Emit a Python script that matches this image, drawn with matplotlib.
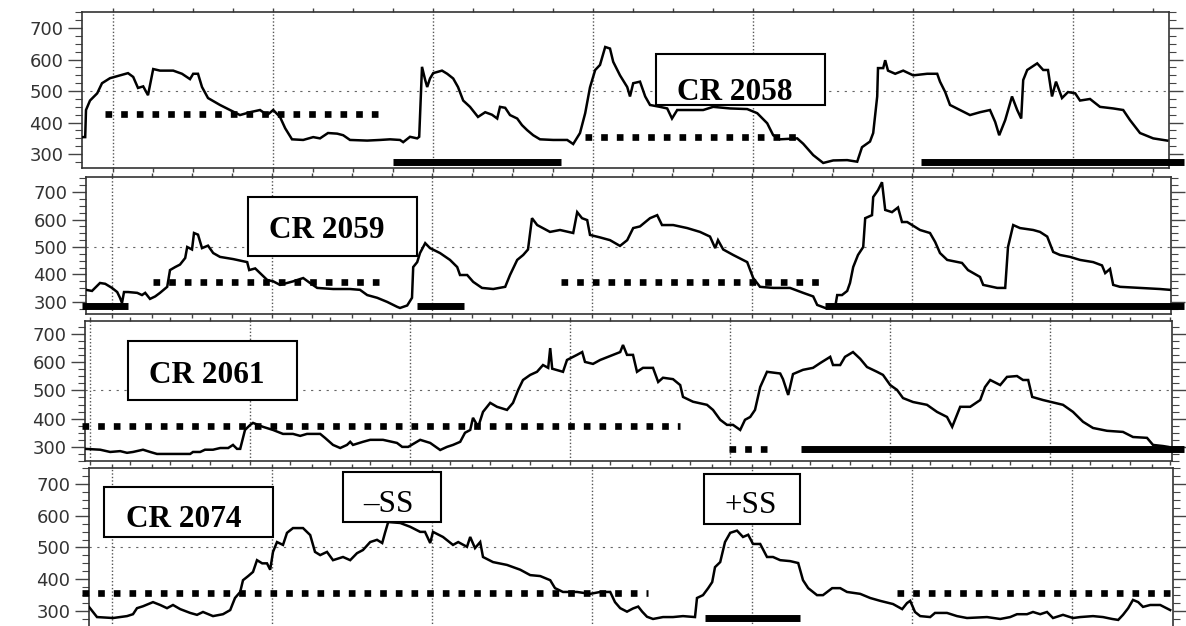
import numpy as np
import matplotlib
matplotlib.use('Agg')
import matplotlib.pyplot as plt
from matplotlib.patches import Rectangle
from matplotlib.ticker import FixedLocator, MultipleLocator

# solar wind speed (km/s) vs day of rotation
p1_day = [0.0, 0.08, 0.1, 0.2, 0.38, 0.5, 0.7, 0.95, 1.15, 1.28,
          1.4, 1.53, 1.65, 1.78, 1.95, 2.28, 2.5, 2.7, 2.78, 2.9,
          3.0, 3.15, 3.45, 3.7, 3.95, 4.2, 4.45, 4.63, 4.78, 4.95,
          5.08, 5.25, 5.53, 5.78, 5.95, 6.15, 6.38, 6.53, 6.7, 7.13,
          7.45, 7.7, 7.95, 8.03, 8.2, 8.38, 8.43, 8.48, 8.5, 8.58,
          8.63, 8.7, 8.78, 9.0, 9.13, 9.28, 9.4, 9.53, 9.7, 9.9,
          10.08, 10.25, 10.38, 10.45, 10.58, 10.7, 10.88, 11.0, 11.13, 11.28,
          11.45, 11.78, 12.13, 12.28, 12.45, 12.58, 12.7, 12.83, 12.95, 13.08,
          13.2, 13.28, 13.45, 13.63, 13.7, 13.78, 13.95, 14.08, 14.2, 14.45,
          14.63, 14.75, 14.88, 15.13, 15.53, 15.78, 16.2, 16.63, 16.88, 17.13,
          17.28, 17.45, 17.88, 18.03, 18.28, 18.53, 18.78, 19.13, 19.38, 19.5,
          19.7, 19.78, 19.88, 19.9, 20.03, 20.08, 20.15, 20.33, 20.53, 20.78,
          21.13, 21.38, 21.45, 21.58, 21.7, 21.95, 22.2, 22.45, 22.7, 22.83,
          22.93, 23.08, 23.25, 23.38, 23.48, 23.53, 23.63, 23.88, 24.03, 24.15,
          24.25, 24.35, 24.5, 24.65, 24.83, 24.95, 25.2, 25.45, 25.78, 26.03,
          26.2, 26.45, 26.78, 27.13]
p1_speed = [354, 354, 440, 470, 493, 525, 541, 550, 557, 545,
            510, 515, 487, 570, 565, 565, 555, 538, 555, 555,
            513, 478, 456, 440, 424, 433, 440, 424, 440, 418,
            382, 347, 345, 354, 350, 367, 365, 360, 345, 343,
            345, 347, 345, 338, 355, 350, 355, 510, 577, 535,
            513, 540, 557, 565, 555, 540, 513, 470, 450, 418,
            433, 425, 413, 450, 447, 424, 413, 392, 376, 360,
            347, 345, 345, 332, 367, 430, 512, 567, 583, 640,
            635, 593, 550, 513, 483, 525, 530, 483, 456, 450,
            445, 413, 440, 440, 440, 450, 445, 443, 430, 398,
            360, 347, 350, 333, 297, 272, 280, 281, 276, 322,
            340, 367, 483, 573, 573, 598, 565, 555, 565, 550,
            555, 555, 530, 497, 456, 440, 424, 433, 440, 402,
            360, 408, 483, 440, 413, 535, 567, 588, 567, 567,
            483, 530, 478, 497, 493, 470, 475, 450, 445, 440,
            408, 367, 350, 343]

p2_day = [0, 0.15, 0.35, 0.48, 0.65, 0.78, 0.85, 0.9, 0.95, 1.05,
          1.28, 1.4, 1.48, 1.6, 1.73, 1.85, 2.03, 2.1, 2.23, 2.35,
          2.48, 2.53, 2.65, 2.7, 2.8, 2.9, 3.05, 3.18, 3.35, 3.68,
          4.03, 4.08, 4.23, 4.35, 4.53, 4.68, 4.85, 5.03, 5.18, 5.43,
          5.6, 5.78, 6.18, 6.6, 6.85, 7.03, 7.28, 7.53, 7.78,
          7.85, 8.03, 8.15, 8.18, 8.28, 8.35, 8.48, 8.6, 8.85, 9.1,
          9.28, 9.35, 9.53, 9.68, 9.9, 10.18, 10.48, 10.6, 10.78, 10.93,
          11.05, 11.15, 11.28, 11.6, 11.85, 12.18, 12.28, 12.4, 12.53, 12.6,
          12.85, 13.1, 13.35, 13.53, 13.68, 13.85, 14.1, 14.28, 14.4, 14.68,
          15.03, 15.35, 15.6, 15.73, 15.8, 15.93, 16.18, 16.53, 16.68, 16.85,
          17.18,
          17.6, 17.93, 18.18, 18.28, 18.48, 18.73, 18.78, 18.9, 19.03, 19.1,
          19.18, 19.3, 19.43, 19.48, 19.65, 19.68, 19.8, 19.9, 19.98, 20.15,
          20.3, 20.4, 20.53, 20.85, 21.1, 21.23, 21.35, 21.53, 21.9, 22.05,
          22.35, 22.43, 22.78, 22.98, 23.05, 23.18, 23.35, 23.68, 23.85, 24.03,
          24.18, 24.35, 24.6, 24.85, 25.18, 25.4, 25.48, 25.6, 25.68, 25.85,
          26.35, 26.85, 27.1]
p2_speed = [344, 340, 369, 366, 351, 336, 315, 296, 336, 336,
            333, 325, 333, 311, 320, 333, 355, 416, 427, 436,
            460, 500, 491, 551, 545, 496, 505, 478, 464, 456,
            445, 416, 422, 405, 380, 375, 362, 369, 375, 387,
            369, 351, 347, 347, 344, 325, 315, 300, 282,
            278, 287, 315, 427, 445, 478, 514, 496, 478, 453,
            427, 398, 398, 373, 351, 347, 355, 398, 453, 471,
            491, 605, 580, 555, 562, 551, 627, 605, 598, 544,
            535, 525, 504, 525, 569, 575, 605, 616, 580, 580,
            569, 555, 538, 496, 525, 491, 471, 445, 387, 355,
            351,
            351, 333, 320, 289, 278, 282, 325, 325, 340, 369,
            427, 471, 500, 605, 616, 682, 707, 736, 635, 627,
            644, 591, 591, 562, 551, 518, 478, 453, 442, 416,
            391, 362, 351, 351, 500, 580, 569, 562, 555, 538,
            482, 471, 464, 453, 445, 433, 405, 420, 362, 355,
            351, 347, 344]

p3_day = [0, 0.38, 0.63, 0.88, 1.05, 1.2, 1.45, 1.63, 1.8, 2.05,
          2.38, 2.63, 2.7, 2.88, 3.0, 3.2, 3.38, 3.58, 3.7, 3.8,
          3.88, 3.95, 4.0, 4.13, 4.2, 4.45, 4.7, 4.95, 5.2, 5.38,
          5.55, 5.88, 6.0, 6.2, 6.38, 6.55, 6.63, 6.7, 6.95, 7.13,
          7.45, 7.8,
          7.93, 8.08, 8.38, 8.63, 8.88, 9.05, 9.2, 9.38, 9.5, 9.63,
          9.7, 9.83, 9.95, 10.13, 10.3, 10.55, 10.7, 10.83, 10.95, 11.13,
          11.3, 11.45, 11.58, 11.63, 11.68, 11.95, 12.05, 12.3, 12.43, 12.5,
          12.7, 12.88, 13.2, 13.38, 13.45, 13.55, 13.7, 13.8, 13.95, 14.2,
          14.33, 14.45, 14.7, 14.88, 14.95, 15.2, 15.55, 15.7, 15.88, 16.05,
          16.2, 16.38, 16.5, 16.63, 16.75, 16.88, 17.05, 17.38, 17.45, 17.58,
          17.7,
          17.95, 18.2, 18.38, 18.63, 18.7, 18.88, 19.0, 19.2, 19.38, 19.55,
          19.8, 19.95, 20.13, 20.3, 20.45, 20.7, 21.05, 21.3, 21.55, 21.68,
          21.88, 22.13, 22.38, 22.5, 22.63, 22.88, 23.05, 23.3, 23.45, 23.58,
          23.68, 23.95, 24.45, 24.7, 24.95, 25.2, 25.55, 25.95, 26.2, 26.55,
          26.7, 26.95, 27.08]
p3_speed = [293, 290, 282, 285, 279, 282, 290, 282, 275, 275,
            275, 275, 282, 282, 290, 290, 296, 296, 307, 293,
            293, 332, 360, 378, 385, 371, 360, 346, 346, 339,
            346, 346, 332, 307, 296, 307, 318, 307, 318, 325,
            325, 314,
            300, 300, 325, 314, 289, 300, 307, 318, 350, 360,
            403, 371, 424, 456, 442, 431, 456, 502, 537, 555,
            566, 590, 580, 650, 577, 566, 608, 626, 636, 601,
            594, 608, 626, 636, 661, 626, 626, 566, 580, 580,
            530, 545, 540, 519, 477, 460, 449, 431, 396, 378,
            378, 360, 396, 406, 431, 512, 566, 560, 540, 484,
            558,
            573, 580, 597, 619, 590, 590, 619, 636, 612, 583,
            566, 555, 519, 502, 473, 459, 449, 424, 406, 371,
            442, 442, 466, 512, 537, 519, 548, 551, 537, 537,
            477, 466, 449, 424, 389, 367, 357, 353, 335, 332,
            307, 303, 300]

p4_day = [0, 0.1, 0.2, 0.6, 0.95, 1.1, 1.2, 1.35, 1.6, 1.78,
          1.95, 2.1, 2.28, 2.53, 2.7, 2.85, 3.1, 3.35, 3.53, 3.65,
          3.78, 3.85, 3.98, 4.1, 4.2, 4.33, 4.45, 4.53, 4.6, 4.7,
          4.85, 4.95, 5.1, 5.35, 5.53, 5.65, 5.78, 5.95, 6.1, 6.35,
          6.53, 6.7, 6.85, 7.03, 7.2, 7.33, 7.4, 7.48,
          7.78, 8.03, 8.28, 8.4, 8.53, 8.6, 8.85, 9.1, 9.23, 9.45,
          9.53, 9.65, 9.78, 9.85, 10.1, 10.45, 10.78, 11.03, 11.28, 11.53,
          11.65, 11.85, 12.2, 12.53, 12.78, 13.03, 13.15, 13.28, 13.45, 13.6,
          13.73, 13.83, 13.95, 14.1, 14.35, 14.6, 14.85, 15.15, 15.2, 15.35,
          15.48, 15.58, 15.65, 15.78, 15.9, 16.03, 16.2, 16.35, 16.48, 16.6,
          16.78, 16.95, 17.1,
          17.28, 17.53, 17.73, 17.85, 17.98, 18.2, 18.35, 18.58, 18.78, 18.95,
          19.28, 19.53, 19.78, 20.1, 20.33, 20.45, 20.53, 20.65, 20.78, 21.03,
          21.15, 21.45, 21.7, 21.95, 22.45, 22.78, 23.03, 23.2, 23.45, 23.6,
          23.78, 23.95, 24.1, 24.35, 24.6, 24.78, 25.1, 25.35, 25.58, 25.73,
          25.85, 25.98, 26.1, 26.23, 26.35, 26.53, 26.78, 27.03]
p4_speed = [313, 297, 281, 278, 284, 290, 309, 315, 328, 319,
            309, 319, 306, 294, 288, 297, 284, 290, 303, 341,
            360, 397, 410, 423, 460, 450, 450, 430, 486, 517,
            508, 546, 561, 561, 539, 486, 476, 486, 460, 470,
            460, 482, 492, 517, 524, 514, 546, 580,
            577, 565, 549, 549, 514, 549, 533, 508, 517, 502,
            533, 498, 517, 470, 454, 445, 430, 413, 410, 397,
            372, 360, 360, 354, 360, 360, 328, 309, 298, 308,
            314, 298, 282, 275, 281, 281, 284, 281, 341, 350,
            372, 391, 438, 454, 517, 546, 553, 533, 540, 511,
            511, 470, 470,
            460, 457, 451, 397, 372, 350, 350, 372, 372, 360,
            354, 341, 332, 322, 306, 325, 332, 297, 284, 281,
            294, 294, 284, 278, 281, 275, 281, 290, 290, 297,
            290, 297, 278, 288, 278, 281, 284, 281, 275, 272,
            288, 309, 335, 328, 313, 319, 319, 303]

# interval bars: (start day, end day, level)
p1_dotted = [(0.58, 7.58, 427), (12.58, 17.95, 354)]
p1_solid = [(7.78, 11.98, 275), (20.98, 27.55, 275)]
p2_dotted = [(1.68, 7.48, 373), (11.88, 18.48, 373)]
p2_solid = [(-0.1, 1.05, 285), (8.28, 9.45, 285), (18.48, 27.45, 285)]
p3_dotted = [(-0.08, 14.88, 374), (16.1, 17.08, 293)]
p3_solid = [(17.9, 27.48, 293)]
p4_dotted = [(-0.18, 13.98, 357), (20.2, 27.2, 357)]
p4_solid = [(15.4, 17.78, 278)]

y_ticks = [300, 400, 500, 600, 700]

W, H = 1186, 626
fig = plt.figure(figsize=(W / 100, H / 100), dpi=100)


def px_rect(l, t, r, b):
    return [l / W, 1 - b / H, (r - l) / W, (b - t) / H]


def panel(rect, ylim, grid0, day, speed, dotted, solid):
    ax = fig.add_axes(px_rect(*rect))
    xmax = (rect[2] - rect[0]) / 40.0
    ax.set_xlim(0, xmax)
    ax.set_ylim(*ylim)
    ax.xaxis.set_major_locator(FixedLocator(np.arange(grid0, xmax, 4)))
    ax.xaxis.set_minor_locator(FixedLocator(np.arange(grid0 % 1, xmax, 1)))
    ax.tick_params(axis='x', which='both', direction='out', top=True, bottom=True,
                   labelbottom=False, length=3, width=1, color='#444')
    ax.yaxis.set_major_locator(FixedLocator(y_ticks))
    ax.yaxis.set_minor_locator(MultipleLocator(25))
    ax.tick_params(axis='y', which='major', left=True, right=True, length=10,
                   width=1, pad=3.5, labelsize=13, labelcolor='#333', color='#444')
    ax.tick_params(axis='y', which='minor', left=True, right=True, length=5,
                   width=0.8, color='#444')
    for s in ax.spines.values():
        s.set_color('#333')
        s.set_linewidth(1.2)
    ax.grid(axis='x', which='major', color='#555', linestyle=(0, (1, 1.5)), lw=1)
    ax.axhline(500, color='#666', lw=0.8, linestyle=(0, (2, 5)))
    ax.plot(day, speed, color='k', lw=1.8, solid_joinstyle='miter', zorder=3)
    for s0, s1, v in dotted:
        ax.plot([s0, s1], [v, v], color='k', lw=4.8, linestyle=(0, (1, 1.35)),
                clip_on=False, zorder=4)
    for s0, s1, v in solid:
        ax.plot([s0, s1], [v, v], color='k', lw=5, solid_capstyle='butt',
                clip_on=False, zorder=4)
    return ax


def label_box(ax, x0, x1, y0, y1, tx, ty, text, weight):
    ax.add_patch(Rectangle((x0, y0), x1 - x0, y1 - y0, fc='white', ec='k',
                           lw=1.5, clip_on=False, zorder=5))
    ax.text(tx, ty, text, ha='center', va='baseline', fontsize=22.5,
            family='Liberation Serif', weight=weight, zorder=6)


ax1 = panel((82, 12, 1169, 168), (256, 751), 0.78, p1_day, p1_speed, p1_dotted, p1_solid)
label_box(ax1, 14.35, 18.58, 456, 617, 16.33, 471, 'CR 2058', 'bold')

ax2 = panel((86, 177, 1171, 314), (256, 755), 0.65, p2_day, p2_speed, p2_dotted, p2_solid)
label_box(ax2, 4.05, 8.28, 467, 682, 6.03, 533, 'CR 2059', 'bold')

ax3 = panel((85, 321, 1172, 461), (250, 746), 0.125, p3_day, p3_speed, p3_dotted, p3_solid)
label_box(ax3, 1.08, 5.3, 466, 675, 3.05, 527, 'CR 2061', 'bold')

ax4 = panel((89, 468, 1173, 632), (234, 750), 0.575, p4_day, p4_speed, p4_dotted, p4_solid)
label_box(ax4, 0.38, 4.6, 533, 691, 2.36, 565, 'CR 2074', 'bold')
label_box(ax4, 6.35, 8.8, 580, 738, 7.48, 612, '\u2013SS', 'normal')
label_box(ax4, 15.38, 17.78, 574, 731, 16.55, 609, '+SS', 'normal')

fig.savefig('out.png', dpi=100)
